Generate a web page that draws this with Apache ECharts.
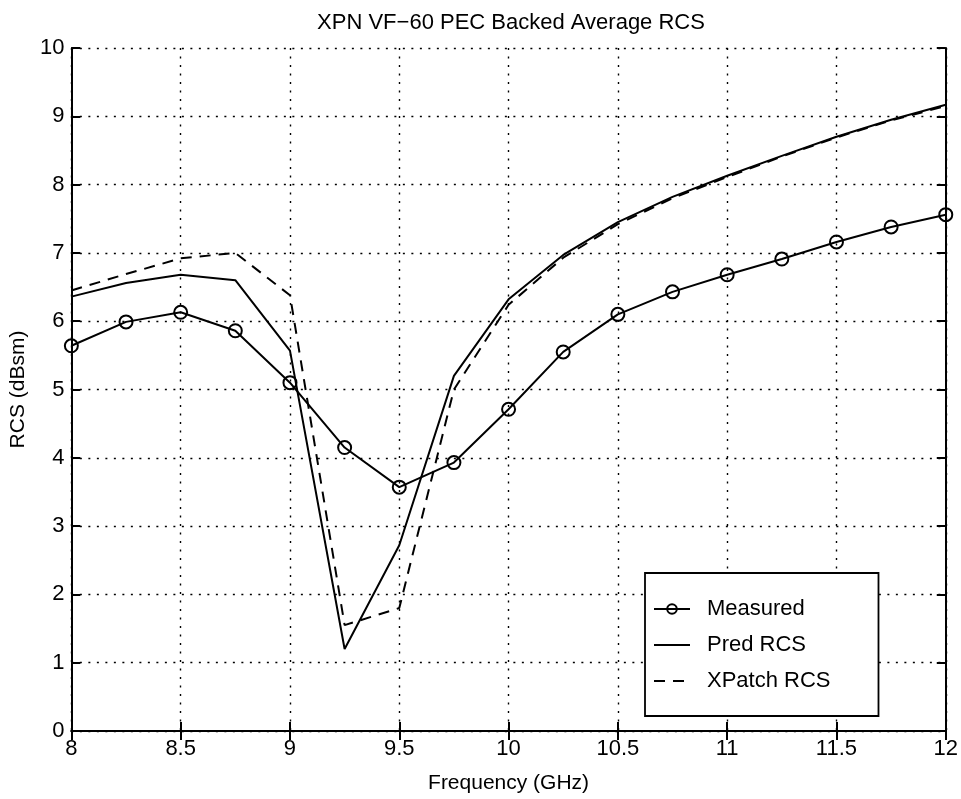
<!DOCTYPE html>
<html>
<head>
<meta charset="utf-8">
<script src="https://cdn.jsdelivr.net/npm/echarts@6/dist/echarts.min.js"></script>
<style>html,body{margin:0;padding:0;background:#fff}#c{width:961px;height:799px}</style>
</head>
<body>
<div id="c"></div>
<script>
const freq = [8, 8.25, 8.5, 8.75, 9, 9.25, 9.5, 9.75, 10, 10.25, 10.5, 10.75, 11, 11.25, 11.5, 11.75, 12];
const measured = [5.64, 5.99, 6.13, 5.86, 5.10, 4.15, 3.57, 3.93, 4.71, 5.55, 6.10, 6.43, 6.68, 6.91, 7.16, 7.38, 7.56];
const predRCS = [6.36, 6.56, 6.68, 6.60, 5.57, 1.20, 2.72, 5.20, 6.32, 6.97, 7.45, 7.82, 8.13, 8.42, 8.70, 8.95, 9.17];
const xpatchRCS = [6.45, 6.69, 6.92, 7.00, 6.38, 1.55, 1.80, 5.00, 6.24, 6.93, 7.42, 7.80, 8.11, 8.41, 8.69, 8.94, 9.15];
const xTicks = [8, 8.5, 9, 9.5, 10, 10.5, 11, 11.5, 12];
const yTicks = [0, 1, 2, 3, 4, 5, 6, 7, 8, 9, 10];
const titleText = 'XPN VF\u221260 PEC Backed Average RCS';

const font = 'Liberation Sans, Arial, Helvetica, sans-serif';
const pair = (ys) => freq.map((f, i) => [f, ys[i]]);
const grid = {type: [2, 6.5], color: '#000', width: 1.4};
const axLine = {show: true, lineStyle: {color: '#000', width: 2}};
const axTick = {show: true, inside: true, length: 9, lineStyle: {color: '#000', width: 2}};

const chart = echarts.init(document.getElementById('c'), null, {renderer: 'canvas'});
chart.setOption({
  backgroundColor: '#fff',
  animation: false,
  title: {
    text: titleText, left: 506, textAlign: 'center', top: 7,
    textStyle: {fontFamily: font, fontSize: 22, fontWeight: 'normal', color: '#000'}
  },
  grid: {left: 69, right: 15, top: 48, bottom: 59},
  xAxis: [{
    type: 'value', min: xTicks[0], max: xTicks[xTicks.length - 1], interval: 0.5,
    name: 'Frequency (GHz)', nameLocation: 'middle', nameGap: 42,
    nameTextStyle: {fontFamily: font, fontSize: 21, color: '#000'},
    axisLine: axLine, axisTick: axTick,
    axisLabel: {fontFamily: font, fontSize: 22, color: '#000', margin: 7},
    splitLine: {show: true, lineStyle: grid}
  }, {
    type: 'value', position: 'top', min: xTicks[0], max: xTicks[xTicks.length - 1], interval: 0.5,
    axisLine: axLine, axisTick: axTick,
    axisLabel: {show: false}, splitLine: {show: false}
  }],
  yAxis: [{
    type: 'value', min: yTicks[0], max: yTicks[yTicks.length - 1], interval: 1,
    name: 'RCS (dBsm)', nameLocation: 'middle', nameGap: 40,
    nameTextStyle: {fontFamily: font, fontSize: 21, color: '#000'},
    axisLine: axLine, axisTick: axTick,
    axisLabel: {fontFamily: font, fontSize: 22, color: '#000', margin: 7},
    splitLine: {show: true, lineStyle: grid}
  }, {
    type: 'value', position: 'right', min: yTicks[0], max: yTicks[yTicks.length - 1], interval: 1,
    axisLine: axLine, axisTick: axTick,
    axisLabel: {show: false}, splitLine: {show: false}
  }],
  legend: {
    orient: 'vertical', left: 645, top: 573,
    padding: [25, 48, 24, 8],
    itemGap: 14, itemWidth: 36, itemHeight: 12,
    backgroundColor: '#fff', borderColor: '#000', borderWidth: 1.8,
    textStyle: {fontFamily: font, fontSize: 22, color: '#000', padding: [0, 0, 0, 12]},
    data: [
      {name: 'Measured'},
      {name: 'Pred RCS', itemStyle: {opacity: 0}},
      {name: 'XPatch RCS', itemStyle: {opacity: 0}}
    ]
  },
  series: [{
    name: 'Measured', type: 'line', data: pair(measured),
    symbol: 'circle', symbolSize: 13, showSymbol: true,
    lineStyle: {color: '#000', width: 2},
    itemStyle: {color: 'rgba(255,255,255,0)', borderColor: '#000', borderWidth: 2},
    z: 5
  }, {
    name: 'Pred RCS', type: 'line', data: pair(predRCS), symbol: 'none',
    lineStyle: {color: '#000', width: 2}, itemStyle: {color: '#000'}
  }, {
    name: 'XPatch RCS', type: 'line', data: pair(xpatchRCS), symbol: 'none',
    lineStyle: {color: '#000', width: 2, type: [11, 8]}, itemStyle: {color: '#000'}
  }]
});
</script>
</body>
</html>
